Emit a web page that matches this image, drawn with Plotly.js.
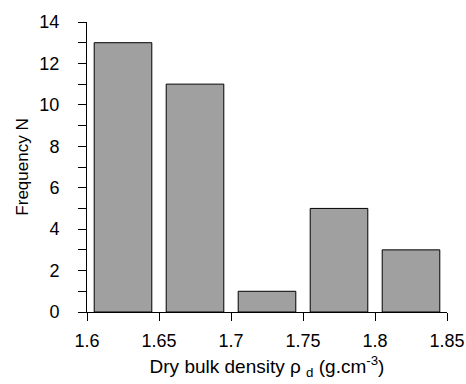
<!DOCTYPE html>
<html>
<head>
<meta charset="utf-8">
<script src="https://cdn.plot.ly/plotly-3.0.1.min.js"></script>
<style>html,body{margin:0;padding:0;background:#fff;}#chart{width:466px;height:384px;}</style>
</head>
<body>
<div id="chart"></div>
<script>
const binCenters = [1.625, 1.675, 1.725, 1.775, 1.825];
const frequencies = [13, 11, 1, 5, 3];
const binWidth = 0.04;
const xTickVals = [1.6, 1.65, 1.7, 1.75, 1.8, 1.85];
const xTickText = ["1.6", "1.65", "1.7", "1.75", "1.8", "1.85"];

const fam = "Liberation Sans, Arial, sans-serif";
const font = {family: fam, size: 18, color: "#000"};

Plotly.newPlot("chart", [{
  type: "bar",
  x: binCenters,
  y: frequencies,
  width: binCenters.map(() => binWidth),
  marker: {color: "#a0a0a0", line: {color: "#000", width: 1}},
  hoverinfo: "skip"
}], {
  width: 466, height: 384,
  margin: {l: 87, r: 19, t: 22, b: 72},
  paper_bgcolor: "#fff", plot_bgcolor: "#fff",
  font: font,
  showlegend: false,
  xaxis: {
    range: [1.6, 1.85],
    tickvals: xTickVals, ticktext: xTickText,
    ticks: "outside", ticklen: 8, tickwidth: 1, tickcolor: "#000",
    showline: true, linecolor: "#000", linewidth: 1,
    showgrid: false, zeroline: false,
    tickfont: font,
    ticklabelstandoff: 4,
    title: {text: "Dry bulk density ρ <sub>d</sub> (g.cm<sup>-3</sup>)", font: {family: fam, size: 19, color: "#000"}, standoff: 10}
  },
  yaxis: {
    range: [0, 14],
    dtick: 2, tick0: 0,
    ticks: "outside", ticklen: 8, tickwidth: 1, tickcolor: "#000",
    minor: {dtick: 1, ticks: "outside", ticklen: 8, tickcolor: "#000", tickwidth: 1, showgrid: false},
    showline: true, linecolor: "#000", linewidth: 1,
    showgrid: false, zeroline: false,
    tickfont: font,
    ticklabelstandoff: 15,
    title: {text: "Frequency N", font: {family: fam, size: 17, color: "#000"}, standoff: 6}
  }
}, {displayModeBar: false, staticPlot: true});
</script>
</body>
</html>
